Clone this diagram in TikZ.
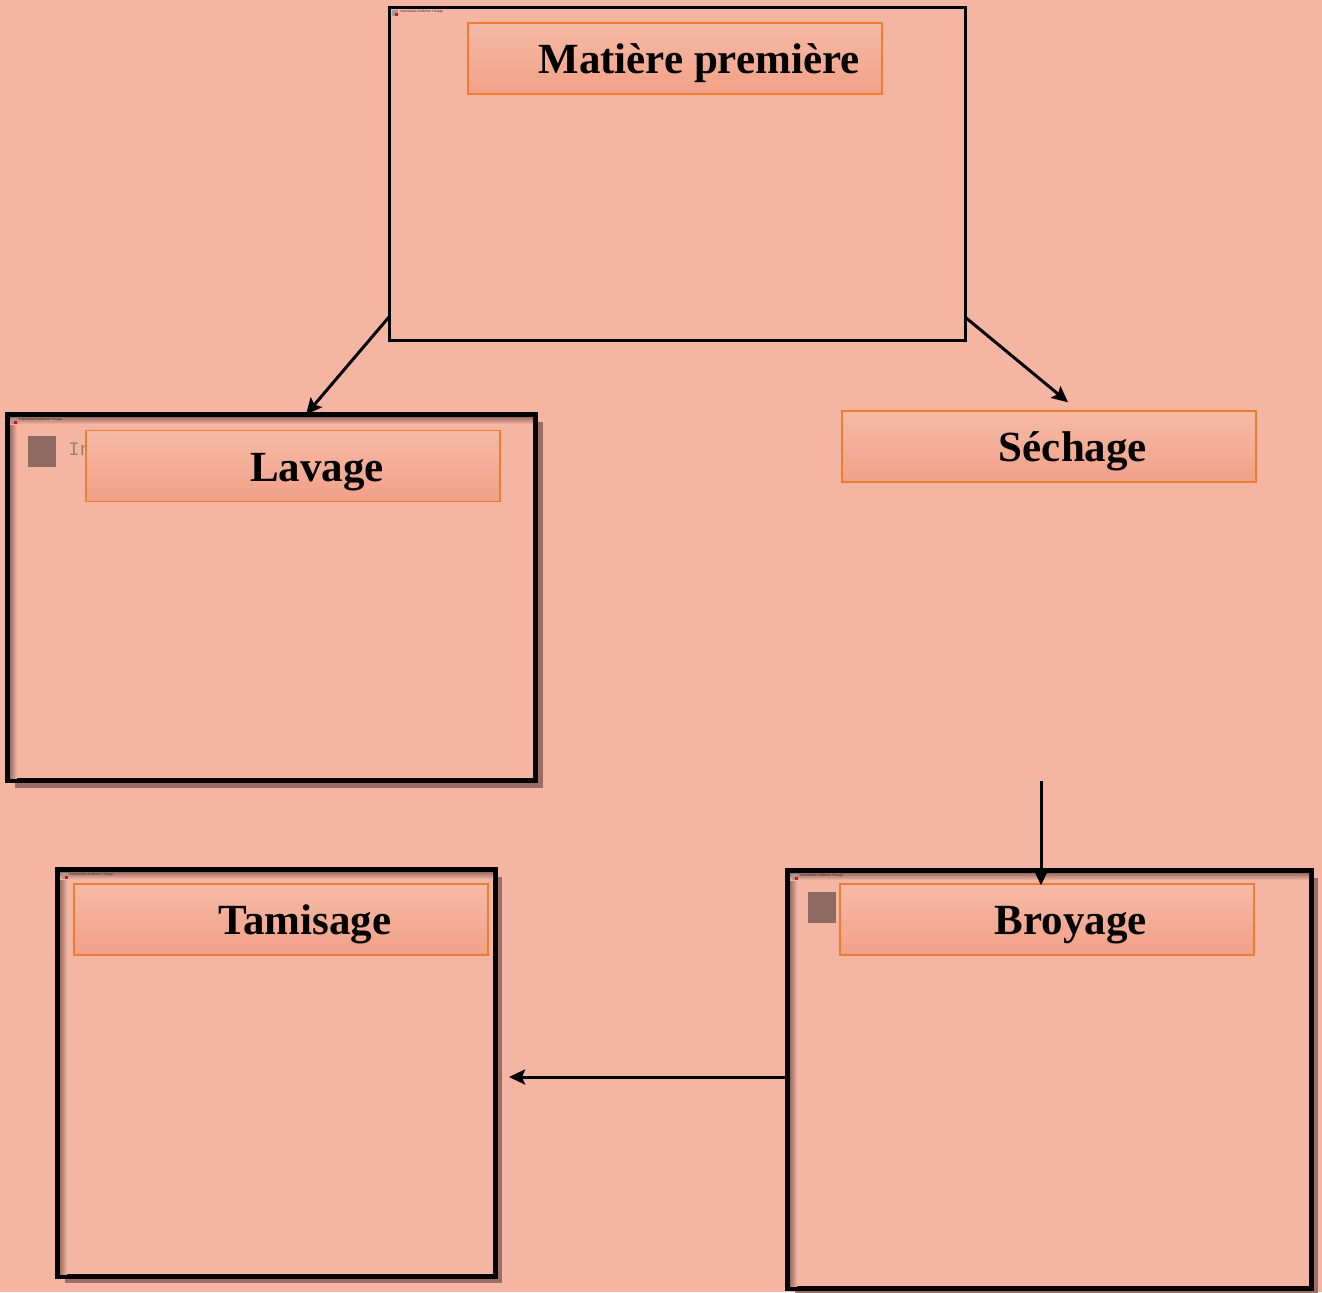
\documentclass[tikz,border=0pt]{standalone}
\usepackage{fontspec}
\setmainfont{Liberation Serif}
\setsansfont{Liberation Sans}
\setmonofont{Liberation Mono}
\usetikzlibrary{arrows.meta,calc,shadows}

\definecolor{paper}{HTML}{F4B6A2}
\definecolor{shade}{HTML}{9A6E64}
\definecolor{labtop}{HTML}{F5BAA6}
\definecolor{labbot}{HTML}{F2A087}
\definecolor{labline}{HTML}{ED7D31}
\definecolor{iconc}{HTML}{8E6A60}
\definecolor{alttext}{HTML}{9C7E74}

\tikzset{
  framebox/.style={draw=black, line width=2.5pt, fill=paper, inner sep=0pt, outer sep=0pt,
    drop shadow={shadow xshift=3.5pt, shadow yshift=-3.5pt, fill=shade, opacity=1}},
  plainbox/.style={draw=black, line width=1.5pt, fill=paper, inner sep=0pt, outer sep=0pt},
  stepbox/.style={draw=labline, line width=0.75pt, top color=labtop, bottom color=labbot,
    minimum width=207pt, minimum height=35.5pt, inner sep=0pt,
    text height=19pt, text depth=4pt,
    font=\fontsize{21.5}{25}\selectfont\bfseries},
  flow/.style={line width=1.5pt, -{Stealth[length=8pt,width=7.5pt,inset=1.5pt]}},
  alt/.style={font=\fontsize{1.7}{2}\sffamily\selectfont, text=black!80, inner sep=0pt, anchor=west},
}

% broken-picture placeholder: small frame icon with red corner and caption
\newcommand{\brokenpic}[2]{%
  \fill[gray!70!black!60] (#1,#2) rectangle ++(6,6);
  \fill[red] (#1+3,#2+3) rectangle ++(3,3);
  \node[alt] at (#1+8,#2+2) {Impossible d'afficher l'image.};
}
% soft inner border along the left and top of a frame
\newcommand{\innershade}[4]{%
  \shade[left color=shade, right color=paper] (#1,#2) rectangle (#1+7,#4);
  \shade[top color=shade, bottom color=paper] (#1,#2) rectangle (#3,#2+7);
}

\begin{document}
\begin{tikzpicture}[x=0.5pt, y=-0.5pt]
  \fill[paper] (0,0) rectangle (1322,1292);
  \useasboundingbox (0,0) rectangle (1322,1292);

  % outer frames
  \node[plainbox, minimum width=288pt, minimum height=166.5pt] (top) at (677,173.5) {};
  \node[framebox, minimum width=264pt, minimum height=183pt] (lav) at (271.5,597.5) {};
  \node[framebox, minimum width=218.75pt, minimum height=203.25pt] (tam) at (276.25,1072.75) {};
  \node[framebox, minimum width=261.75pt, minimum height=208.75pt] (broy) at (1049.25,1079.25) {};

  % inner shading and picture placeholders
  \innershade{10}{417}{533}{778}
  \innershade{60}{872}{493}{1274}
  \innershade{790}{873}{1309}{1286}
  \brokenpic{392}{10}
  \brokenpic{11}{418}
  \brokenpic{62}{873}
  \brokenpic{792}{874}

  \fill[iconc] (28,436) rectangle (56,467);
  \fill[iconc] (808,892) rectangle (836,923);
  \node[font=\fontsize{9.5}{11}\ttfamily\selectfont, text=alttext, inner sep=0pt, anchor=west] (alt1) at (68,449) {In};

  % step labels
  \node[stepbox] (mat) at (675,58.5) {\hspace*{24pt}Matière première};
  \node[stepbox] (lavlab) at (293,466) {\hspace*{24pt}Lavage};
  \node[stepbox] (sech) at (1049,446.5) {\hspace*{24pt}Séchage};
  \node[stepbox] (broylab) at (1047,919.5) {\hspace*{24pt}Broyage};
  \node[stepbox] (tamlab) at (281,919.5) {\hspace*{24pt}Tamisage};

  % connectors
  \coordinate (s3) at (1041,781);
  \draw[flow] ($(top.south west)+(0,-23)$) -- (306,0 |- lav.north);
  \draw[flow] ($(top.south east)+(0,-23)$) -- ($(1068,0 |- sech.north)+(0,-8)$);
  \draw[flow] (s3) -- ($(1041,0 |- broylab.north)+(0,2)$);
  \draw[flow] (broy.west |- 0,1077) -- ($(tam.east |- 0,1077)+(14,0)$);
\end{tikzpicture}
\end{document}
